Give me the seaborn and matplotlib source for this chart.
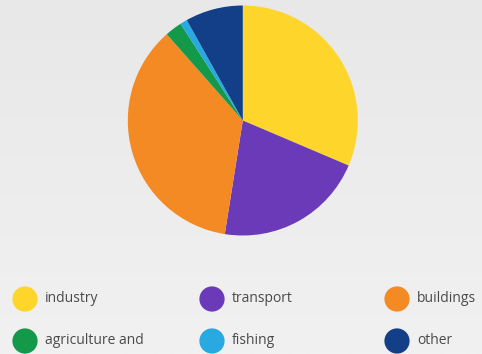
import numpy as np
import matplotlib
matplotlib.use("Agg")
import matplotlib.pyplot as plt
import seaborn as sns
import pandas as pd

# Emissions share by sector (percent)
sectors = ["industry", "transport", "buildings", "agriculture and", "fishing", "other"]
shares = [31.4, 21.1, 36.0, 2.4, 1.0, 8.1]
colors = ["#FDD52B", "#6A3AB8", "#F48A24", "#14994A", "#29A9E1", "#123F87"]

sns.set_theme(style="white")
plt.rcParams["font.family"] = ["Open Sans", "DejaVu Sans"]

W, H = 482, 354
fig = plt.figure(figsize=(W / 100, H / 100), dpi=100)

# soft grey background gradient
bg = fig.add_axes([0, 0, 1, 1])
grad = np.linspace(0, 1, 256).reshape(-1, 1)
bg.imshow(grad, aspect="auto", cmap=matplotlib.colors.LinearSegmentedColormap.from_list(
    "bg", ["#e8e8e8", "#f1f1f1"]), extent=[0, 1, 0, 1], origin="upper")
bg.set_axis_off()

# pie
cx, cy, r = 242.8, 120.5, 115.0
ax = fig.add_axes([(cx - r) / W, 1 - (cy + r) / H, 2 * r / W, 2 * r / H])
ax.pie(shares, colors=colors, startangle=90, counterclock=False,
       wedgeprops=dict(linewidth=0), radius=1.0)
ax.set_xlim(-1, 1)
ax.set_ylim(-1, 1)
ax.set_aspect("equal")
ax.set_axis_off()

# legend grid: 3 columns, 2 rows
lax = fig.add_axes([0, 0, 1, 1], facecolor="none")
col_x = [25, 212, 397]
row_y = [299, 341]
leg = pd.DataFrame({
    "sector": sectors,
    "x": [col_x[i % 3] for i in range(len(sectors))],
    "y": [row_y[i // 3] for i in range(len(sectors))],
})
sns.scatterplot(data=leg, x="x", y="y", hue="sector", palette=colors,
                s=330, linewidth=0, legend=False, ax=lax)
lax.set_xlim(0, W)
lax.set_ylim(H, 0)
lax.set_axis_off()
for _, row in leg.iterrows():
    lax.text(row["x"] + 20, row["y"], row["sector"], ha="left", va="center",
             fontsize=10, color="#4a4a4a", fontweight="normal")

fig.savefig("out.png", dpi=100)
